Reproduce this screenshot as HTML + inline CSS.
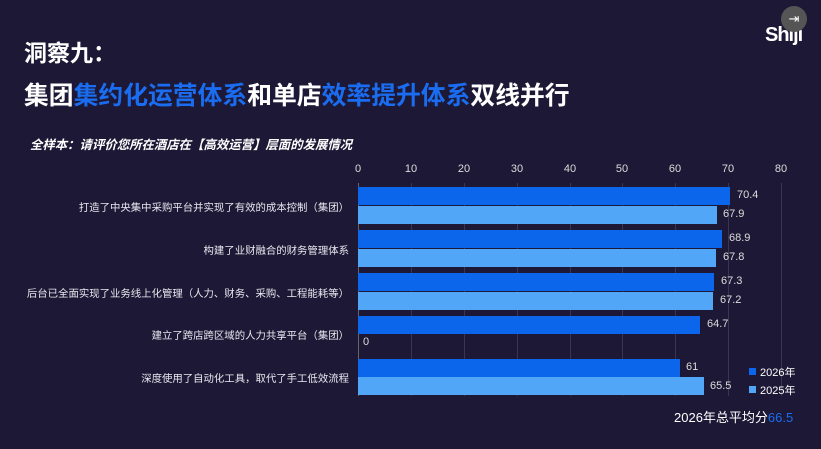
<!DOCTYPE html><html><head><meta charset="utf-8"><style>
body{margin:0;width:821px;height:449px;background:#1d1835;overflow:hidden;font-family:"Liberation Sans","Noto Sans CJK SC",sans-serif;color:#fff;position:relative}
.a{position:absolute;white-space:nowrap}
.b{color:#1a6cf0}
.lbl{position:absolute;right:472px;font-size:10.4px;color:#e8e8f0;white-space:nowrap}
.v{position:absolute;font-size:11px;color:#ddd}
.bar{position:absolute;left:358px;height:18px}
.d{background:#0b66ec}.l{background:#52a6f7}
.g{position:absolute;top:183px;height:213px;width:1px;background:#3a3555}
.t{position:absolute;top:163px;font-size:11px;color:#ddd;width:30px;margin-left:-15px;text-align:center}
</style></head><body>
<div class="a" style="left:24px;top:34px;font-size:23px;font-weight:bold">洞察九：</div>
<div class="a" style="left:24px;top:76px;font-size:24.8px;font-weight:bold">集团<span class="b">集约化运营体系</span>和单店<span class="b">效率提升体系</span>双线并行</div>
<div class="a" style="left:30px;top:135px;font-size:12.4px;font-weight:bold;font-style:italic">全样本：请评价您所在酒店在【高效运营】层面的发展情况</div>
<div class="a" style="left:765px;top:24px;font-size:20px;font-weight:bold;letter-spacing:-1px">Shiji</div>
<div class="a" style="left:781px;top:6px;width:26px;height:26px;border-radius:13px;background:#555;font-size:13px;text-align:center;line-height:26px">⇥</div>
<div class="g" style="left:358px;background:#666"></div><div class="g" style="left:411px"></div><div class="g" style="left:464px"></div><div class="g" style="left:517px"></div><div class="g" style="left:570px"></div><div class="g" style="left:622px"></div><div class="g" style="left:675px"></div><div class="g" style="left:728px"></div><div class="g" style="left:781px"></div>
<div class="t" style="left:358px">0</div><div class="t" style="left:411px">10</div><div class="t" style="left:464px">20</div><div class="t" style="left:517px">30</div><div class="t" style="left:570px">40</div><div class="t" style="left:622px">50</div><div class="t" style="left:675px">60</div><div class="t" style="left:728px">70</div><div class="t" style="left:781px">80</div>
<div class="bar d" style="top:187px;width:372px"></div><div class="bar l" style="top:206px;width:359px"></div>
<div class="v" style="left:737px;top:189px">70.4</div><div class="v" style="left:723px;top:208px">67.9</div>
<div class="lbl" style="top:199px">打造了中央集中采购平台并实现了有效的成本控制（集团）</div>
<div class="bar d" style="top:230px;width:364px"></div><div class="bar l" style="top:249px;width:358px"></div>
<div class="v" style="left:729px;top:232px">68.9</div><div class="v" style="left:723px;top:251px">67.8</div>
<div class="lbl" style="top:242px">构建了业财融合的财务管理体系</div>
<div class="bar d" style="top:273px;width:356px"></div><div class="bar l" style="top:292px;width:355px"></div>
<div class="v" style="left:721px;top:275px">67.3</div><div class="v" style="left:720px;top:294px">67.2</div>
<div class="lbl" style="top:285px">后台已全面实现了业务线上化管理（人力、财务、采购、工程能耗等）</div>
<div class="bar d" style="top:316px;width:342px"></div>
<div class="v" style="left:707px;top:318px">64.7</div><div class="v" style="left:363px;top:336px">0</div>
<div class="lbl" style="top:327px">建立了跨店跨区域的人力共享平台（集团）</div>
<div class="bar d" style="top:359px;width:322px"></div><div class="bar l" style="top:377px;width:346px"></div>
<div class="v" style="left:686px;top:361px">61</div><div class="v" style="left:710px;top:380px">65.5</div>
<div class="lbl" style="top:370px">深度使用了自动化工具，取代了手工低效流程</div>
<div class="a" style="left:749px;top:368px;width:7px;height:7px;background:#0b66ec"></div><div class="a" style="left:760px;top:364px;font-size:11px">2026年</div>
<div class="a" style="left:749px;top:386px;width:7px;height:7px;background:#52a6f7"></div><div class="a" style="left:760px;top:382px;font-size:11px">2025年</div>
<div class="a" style="left:674px;top:407px;font-size:13px">2026年总平均分<span class="b">66.5</span></div>
</body></html>
